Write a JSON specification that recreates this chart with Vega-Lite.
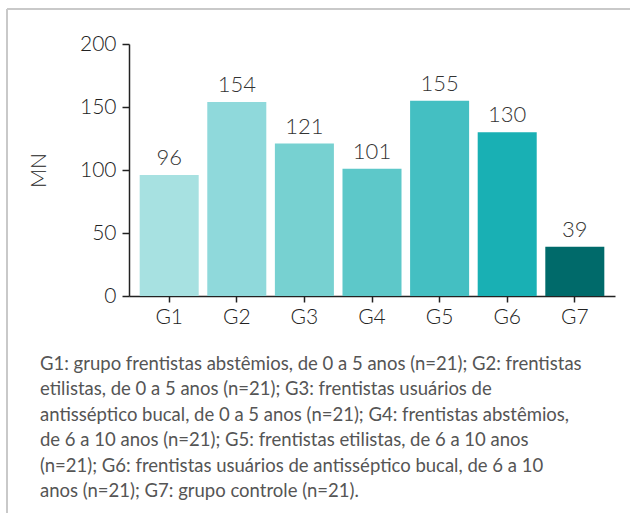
{
  "$schema": "https://vega.github.io/schema/vega-lite/v6.json",
  "autosize": {"type": "none"},
  "padding": {"left": 7, "top": 9, "right": 0, "bottom": 0},
  "width": 623,
  "height": 504,
  "background": "white",
  "config": {
    "view": {"stroke": "#c9c9c9", "strokeWidth": 2, "strokeDash": [623, 1127, 504, 0]},
    "font": "Lato"
  },
  "title": {
    "text": [
      "G1: grupo frentistas abstêmios, de 0 a 5 anos (n=21); G2: frentistas",
      "etilistas, de 0 a 5 anos (n=21); G3: frentistas usuários de",
      "antisséptico bucal, de 0 a 5 anos (n=21); G4: frentistas abstêmios,",
      "de 6 a 10 anos (n=21); G5: frentistas etilistas, de 6 a 10 anos",
      "(n=21); G6: frentistas usuários de antisséptico bucal, de 6 a 10",
      "anos (n=21); G7: grupo controle (n=21)."
    ],
    "orient": "bottom",
    "anchor": "start",
    "frame": "group",
    "offset": -158,
    "dx": 33,
    "baseline": "top",
    "font": "Lato",
    "fontSize": 18.5,
    "fontWeight": "normal",
    "color": "#555555",
    "lineHeight": 25.4
  },
  "data": {
    "values": [
      {"grupo": "G1", "MN": 96},
      {"grupo": "G2", "MN": 154},
      {"grupo": "G3", "MN": 121},
      {"grupo": "G4", "MN": 101},
      {"grupo": "G5", "MN": 155},
      {"grupo": "G6", "MN": 130},
      {"grupo": "G7", "MN": 39}
    ]
  },
  "encoding": {
    "x": {
      "field": "grupo",
      "type": "nominal",
      "sort": null,
      "scale": {"range": [122, 608], "paddingInner": 0.127, "paddingOuter": 0.158},
      "axis": {
        "orient": "bottom",
        "offset": -217,
        "title": null,
        "labelAngle": 0,
        "labelFont": "Lato",
        "labelFontSize": 21,
        "labelFontWeight": 300,
        "labelColor": "#222222",
        "labelPadding": 4,
        "tickSize": 6,
        "tickColor": "#222222",
        "tickWidth": 1.5,
        "domainColor": "#222222",
        "domainWidth": 1.5
      }
    },
    "y": {
      "field": "MN",
      "type": "quantitative",
      "scale": {"domain": [0, 200], "range": [287, 35], "nice": false},
      "axis": {
        "offset": -122,
        "values": [0, 50, 100, 150, 200],
        "grid": false,
        "title": "MN",
        "titleFont": "Lato",
        "titleFontSize": 21,
        "titleFontWeight": 300,
        "titleColor": "#222222",
        "titlePadding": 30,
        "labelFont": "Lato",
        "labelFontSize": 21,
        "labelFontWeight": 300,
        "labelColor": "#222222",
        "labelPadding": 6,
        "tickSize": 7,
        "tickColor": "#222222",
        "tickWidth": 1.5,
        "domainColor": "#222222",
        "domainWidth": 1.5
      }
    }
  },
  "layer": [
    {
      "mark": {"type": "bar"},
      "encoding": {
        "color": {
          "field": "grupo",
          "type": "nominal",
          "scale": {
            "domain": ["G1", "G2", "G3", "G4", "G5", "G6", "G7"],
            "range": ["#a7e1e1", "#8fd9db", "#77d1d1", "#5dc8c9", "#44bfc2", "#19b0b4", "#006a6a"]
          },
          "legend": null
        }
      }
    },
    {
      "mark": {"type": "text", "dy": -10, "baseline": "alphabetic", "font": "Lato", "fontSize": 22, "fontWeight": 300, "color": "#333333"},
      "encoding": {"text": {"field": "MN", "type": "quantitative"}}
    }
  ]
}
